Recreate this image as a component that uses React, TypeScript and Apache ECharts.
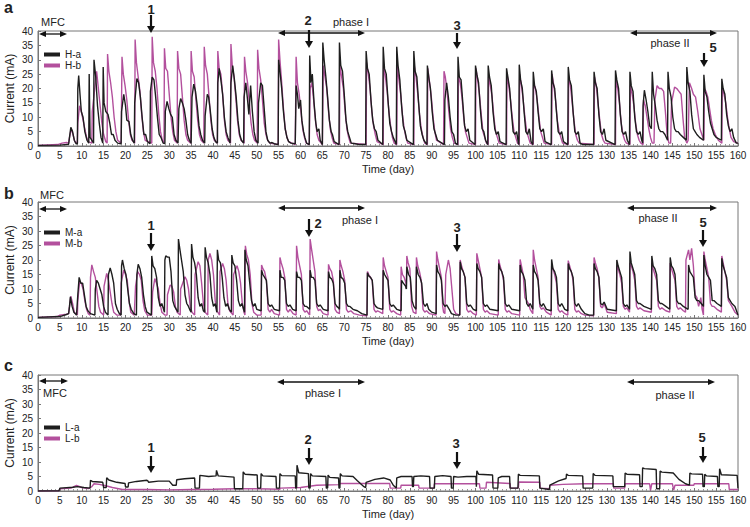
import React, { useEffect, useRef } from "react";
import * as echarts from "echarts";

const FONT = "'Liberation Sans', Arial, Helvetica, sans-serif";
const BLACK = "#1e1e1e";
const MAGENTA = "#b3509d";

const xTicks = { min: 0, max: 160, interval: 5 };
const yTicks = { min: 0, max: 40, interval: 5 };

// Panel a (H) : flat [day, mA, day, mA, ...]
const Ha = [
  0,0.2, 5,0.3, 6.5,0.5, 7.0,0.6, 7.2,3, 7.5,6.5, 7.9,5, 8.3,2, 8.7,0.8,
  9.0,0.8, 9.1,20, 9.3,24.5, 9.6,18, 9.9,12, 10.3,10, 10.7,5, 11.2,2, 11.6,1,
  11.7,25, 11.9,3, 12.7,1, 12.8,30, 13.2,24, 13.6,14, 14.0,8, 14.4,3, 14.8,1,
  14.9,27.5, 15.1,15, 15.5,12, 16.0,11, 16.4,8, 16.8,4, 17.2,4, 17.6,2, 18.2,1,
  19.0,0.8, 19.1,12, 19.6,18, 20.0,14, 20.3,9, 20.8,8.5, 21.2,4, 21.6,2, 22.0,1,
  22.1,15, 22.6,23.5, 23.0,22, 23.4,17, 23.8,10, 24.2,4, 24.6,4, 25.0,1.5, 25.6,0.8,
  25.7,19, 26.1,24, 26.5,23, 26.9,17, 27.3,10, 27.7,4, 28.1,3, 28.6,1,
  29.0,0.8, 29.1,12, 29.5,15.5, 29.9,13, 30.3,11, 30.7,10, 31.1,4, 31.5,2, 32.0,1,
  32.2,13, 32.6,16.5, 33.0,15, 33.4,13, 33.8,9, 34.2,4, 34.6,2, 35.0,1,
  35.2,17, 35.6,21.5, 36.0,19, 36.4,14, 36.8,7, 37.2,4, 37.6,2, 38.1,1,
  38.2,10.5, 38.7,18, 39.0,17, 39.4,12, 39.8,6, 40.2,3, 40.6,1.5, 41.0,1,
  41.1,22, 41.4,27, 41.8,23, 42.2,18, 42.6,10, 43.0,5, 43.4,3, 43.9,1,
  44.1,22, 44.5,28, 44.9,23, 45.3,17, 45.7,9, 46.1,4, 46.5,2, 47.0,1,
  47.1,17, 47.5,22, 47.9,16, 48.2,11, 48.6,21, 49.0,12, 49.4,5, 49.8,2, 50.3,1,
  50.4,15, 50.9,22, 51.3,21, 51.7,13, 52.1,5, 52.5,2, 53.0,1, 53.5,1.2, 54.0,0.8, 54.9,0.5,
  55.0,30, 55.3,26, 55.7,20, 56.1,12, 56.5,6, 56.9,3, 57.3,1.5, 57.8,1, 58.8,0.8,
  59.0,21, 59.3,18, 59.6,13, 60.0,16, 60.3,9, 60.7,5, 61.0,3, 61.4,1, 62.0,0.5,
  62.1,31.5, 62.4,22, 62.7,25, 63.1,15, 63.5,8, 63.8,5, 64.2,6, 64.5,2, 65.0,0.5,
  65.1,36, 65.4,30, 65.8,24, 66.2,17, 66.6,9, 67.0,5, 67.3,4, 67.7,1.5, 68.8,0.5,
  68.9,36, 69.2,28, 69.6,26, 70.0,18, 70.4,9, 70.8,5, 71.2,3, 71.6,1, 72.5,0.8, 73.5,0.5, 74.9,0.5,
  75.0,33, 75.3,27, 75.7,25, 76.1,16, 76.5,9, 76.9,6, 77.3,5, 77.7,2, 78.8,0.5,
  78.9,34.5, 79.2,27, 79.6,25, 80.0,16, 80.4,8, 80.8,5, 81.2,3, 81.9,0.5,
  82.0,34.5, 82.3,28, 82.7,23, 83.1,14, 83.5,7, 83.9,5, 84.3,2, 85.8,0.5,
  85.9,33, 86.2,26, 86.6,24, 87.0,15, 87.4,7, 87.8,4, 88.2,2, 88.9,0.5,
  89.0,28, 89.3,24, 89.7,20, 90.1,12, 90.5,6, 90.9,4, 91.3,2, 92.9,0.5,
  93.0,16, 93.4,22, 93.8,17, 94.2,10, 94.6,5, 95.0,4, 95.4,1, 95.9,0.5,
  96.0,31, 96.3,24, 96.7,23, 97.1,15, 97.5,7, 97.9,5, 98.3,6, 98.7,2, 99.9,0.5,
  100.0,28, 100.3,25, 100.7,22, 101.1,13, 101.5,6, 101.9,5, 102.3,2, 102.8,0.5,
  102.9,28, 103.2,24, 103.6,21, 104.0,12, 104.4,6, 104.8,4, 105.2,5, 105.6,1.5, 107.0,0.5,
  107.1,27, 107.4,24, 107.8,20, 108.2,12, 108.6,5, 109.0,4, 109.4,5, 109.8,1, 109.9,0.5,
  110.0,28.3, 110.3,23, 110.7,20, 111.1,12, 111.5,5, 111.9,4, 112.3,6, 112.7,1.5, 113.1,0.5,
  113.2,25.8, 113.5,21, 113.9,19, 114.3,12, 114.7,6, 115.1,5, 115.5,6, 115.9,1.5, 117.3,0.5,
  117.4,26.3, 117.7,22, 118.1,20, 118.5,12, 118.9,5, 119.3,4, 119.7,5, 120.1,1.5, 121.1,0.5,
  121.2,27.5, 121.5,23, 121.9,21, 122.3,12, 122.7,5, 123.1,4, 123.5,5, 123.9,1, 124.5,0.5, 127.0,0.5,
  127.1,25.8, 127.4,22, 127.8,20, 128.2,11, 128.6,5, 129.0,4, 129.4,6, 129.8,2, 131.9,0.5,
  132.0,26.3, 132.3,23, 132.7,20, 133.1,11, 133.5,5, 133.9,4, 134.3,5, 134.7,2, 135.2,0.5,
  135.3,25.8, 135.6,21, 136.0,19, 136.4,10, 136.8,5, 137.2,4, 137.6,5, 138.0,2, 138.2,1,
  138.3,14, 138.6,19.4, 139.0,16, 139.4,12, 139.8,7, 140.2,6, 140.3,6,
  140.4,25.8, 140.7,18, 141.1,14, 141.5,9, 141.9,6, 142.3,5, 142.8,5, 143.3,4, 143.9,2,
  144.0,25.8, 144.3,20, 144.7,17, 145.1,10, 145.5,6, 145.9,5, 146.3,5, 146.8,4, 147.5,3, 148.2,2,
  148.3,27.5, 148.6,22, 149.0,19, 149.4,11, 149.8,6, 150.2,5, 150.6,4, 151.2,3, 152.1,2,
  152.2,24.8, 152.5,19, 152.9,17, 153.3,12, 153.7,8, 154.1,6, 154.5,4, 155.0,3, 156.2,2,
  156.3,23.4, 156.6,20, 157.0,18, 157.4,11, 157.8,7, 158.2,5, 158.6,6, 159.0,3, 159.6,1, 160,1,
];

const Hb = [
  0,0.2, 4.5,0.5, 5.5,1, 6.5,1.2, 7.0,1, 7.2,3, 7.6,6, 8.0,4, 8.4,1.5, 9.0,1,
  9.1,8, 9.5,14, 9.9,12, 10.3,9, 10.7,6, 11.1,3, 11.5,1.5, 12.3,1,
  12.4,12, 13.4,26, 13.8,20, 14.2,14, 14.6,8, 15.0,4, 15.5,1.5, 15.8,1,
  15.9,32, 16.2,26, 16.6,22, 17.0,17, 17.4,10, 17.8,5, 18.2,2, 19.0,1,
  19.2,31, 19.5,25, 19.9,21, 20.3,16, 20.7,9, 21.1,4, 21.5,2, 22.1,1,
  22.2,37, 22.5,29, 22.9,24, 23.3,19, 23.7,11, 24.1,5, 24.5,2, 26.0,1,
  26.1,38, 26.4,29, 26.8,26, 27.2,20, 27.6,11, 28.0,5, 28.4,2, 28.8,1,
  28.9,34, 29.2,27, 29.6,26, 30.0,18, 30.4,10, 30.8,5, 31.2,2, 31.8,1,
  31.9,33, 32.2,27, 32.6,25, 33.0,17, 33.4,9, 33.8,4, 34.2,2, 34.9,1,
  35.0,33, 35.3,26, 35.7,24, 36.1,16, 36.5,9, 36.9,4, 37.3,2, 37.9,1,
  38.0,34.5, 38.3,28, 38.7,25, 39.1,17, 39.5,9, 39.9,4, 40.3,2, 41.0,1,
  41.1,33, 41.4,27, 41.8,25, 42.2,18, 42.6,9, 43.0,4, 43.4,2, 44.0,1,
  44.1,35.5, 44.4,28, 44.8,24, 45.2,17, 45.6,9, 46.0,4, 46.4,2, 47.1,1,
  47.2,31, 47.5,26, 47.9,22, 48.3,15, 48.7,8, 49.1,4, 49.5,2, 50.1,1,
  50.2,33.5, 50.5,27, 50.9,23, 51.3,16, 51.7,8, 52.1,4, 52.5,2, 53.0,1, 54.9,0.5,
  55.0,37, 55.3,30, 55.7,22, 56.1,13, 56.5,6, 56.9,3, 57.3,1.5, 58.8,0.5,
  59.0,31, 59.3,22, 59.7,18, 60.1,12, 60.5,6, 60.9,3, 61.3,1, 62.0,0.5,
  62.2,20, 62.6,22, 63.0,16, 63.4,9, 63.8,4, 64.2,2, 65.0,0.5,
  65.2,28, 65.6,24, 66.0,20, 66.4,12, 66.8,6, 67.2,3, 67.6,1, 68.9,0.5,
  69.0,28, 69.4,24, 69.8,20, 70.2,12, 70.6,6, 71.0,3, 71.4,1, 75.0,0.5,
  75.1,29, 75.5,25, 75.9,20, 76.3,12, 76.7,7, 77.1,4, 77.5,1.5, 78.9,0.5,
  79.0,28, 79.4,24, 79.8,19, 80.2,12, 80.6,7, 81.0,3, 81.4,1, 82.0,0.5,
  82.1,28, 82.5,23, 82.9,18, 83.3,11, 83.7,6, 84.1,3, 84.5,1, 85.9,0.5,
  86.0,28, 86.4,24, 86.8,18, 87.2,11, 87.6,6, 88.0,3, 88.4,1, 89.0,0.5,
  89.1,27, 89.5,22, 89.9,17, 90.3,10, 90.7,5, 91.1,2, 92.7,0.5,
  92.8,26, 93.1,24, 93.5,19, 93.9,12, 94.3,6, 94.7,3, 95.1,1, 96.0,0.5,
  96.1,24, 96.5,22, 96.9,17, 97.3,10, 97.7,5, 98.1,3, 98.5,1, 100.0,0.5,
  100.1,27, 100.5,23, 100.9,18, 101.3,11, 101.7,5, 102.1,3, 102.5,1, 102.9,0.5,
  103.0,24, 103.4,21, 103.8,17, 104.2,10, 104.6,5, 105.0,3, 105.4,1, 107.1,0.5,
  107.2,25, 107.6,21, 108.0,16, 108.4,10, 108.8,5, 109.2,3, 109.6,1, 110.0,0.5,
  110.1,25, 110.5,21, 110.9,16, 111.3,10, 111.7,5, 112.1,3, 112.5,1, 113.2,0.5,
  113.3,22, 113.7,20, 114.1,16, 114.5,10, 114.9,5, 115.3,3, 115.7,1, 117.4,0.5,
  117.5,25, 117.9,21, 118.3,16, 118.7,9, 119.1,5, 119.5,3, 119.9,1, 121.2,0.5,
  121.3,24, 121.7,21, 122.1,15, 122.5,9, 122.9,4, 123.3,2, 123.7,1, 127.1,0.5,
  127.2,24, 127.6,21, 128.0,15, 128.4,9, 128.8,4, 129.2,2, 129.6,1, 132.0,0.5,
  132.1,23, 132.5,20, 132.9,15, 133.3,8, 133.7,4, 134.1,2, 134.5,1, 135.3,0.5,
  135.4,21, 135.8,18, 136.2,14, 136.6,8, 137.0,4, 137.4,2, 137.8,1, 138.3,0.5,
  138.4,16, 138.8,14, 139.2,10, 139.6,6, 140.0,3, 140.4,1,
  140.8,1, 141.0,16, 141.5,21, 142.0,20, 142.5,20, 143.0,19, 143.4,12, 143.8,4, 144.2,1,
  144.6,1, 144.8,15, 145.5,20.5, 146.0,20, 146.5,19, 147.0,18, 147.4,10, 147.8,3, 148.3,1,
  148.6,2, 148.9,22, 149.4,20, 149.8,18, 150.3,17, 150.8,12, 151.3,6, 152.2,2,
  152.3,20, 152.7,19, 153.1,17, 153.5,13, 153.9,9, 154.3,6, 154.8,4, 155.5,2, 156.3,1,
  156.4,20, 156.8,18, 157.2,15, 157.6,10, 158.0,6, 158.4,3, 159.0,1.5, 160,1,
];

// Panel b (M)
const Ma = [
  0,0.2, 5,0.5, 6.5,1.2, 7.0,1.5, 7.2,4, 7.4,7.3, 7.8,4, 8.2,2, 8.8,1,
  9.1,8, 9.4,14, 9.8,12, 10.2,12, 10.6,8, 11.0,4, 11.4,2.5, 12.0,1.5, 13.0,1,
  13.1,10, 13.4,13, 13.8,12, 14.2,10, 14.6,8, 15.0,4, 15.4,2, 16.0,1,
  16.1,15, 16.5,17.3, 16.9,15, 17.3,12, 17.7,5, 18.1,3, 18.6,1.5, 19.0,1,
  19.1,18, 19.3,20, 19.7,17, 20.1,15, 20.5,10, 20.9,5, 21.3,3, 21.9,1.5, 22.5,1,
  22.6,15, 22.9,18.5, 23.3,17, 23.7,14, 24.1,8, 24.5,4, 24.9,2, 25.9,1,
  26.0,21.4, 26.3,18, 26.7,17, 27.1,14, 27.5,7, 27.9,4, 28.3,5, 28.7,3, 28.9,2,
  29.0,20, 29.2,21.4, 29.6,21, 30.0,21, 30.4,16, 30.8,6, 31.2,4, 31.6,3, 32.0,2,
  32.1,27.2, 32.4,24, 32.8,20, 33.2,16, 33.6,8, 34.0,5, 34.4,4, 34.8,2.5, 35.0,2,
  35.1,25.5, 35.4,21, 35.8,19, 36.2,15, 36.6,7, 37.0,4, 37.4,5, 37.8,2.5, 38.1,2,
  38.2,24.4, 38.5,21, 38.9,19, 39.3,15, 39.7,7, 40.1,4, 40.5,5, 40.8,2.5, 40.9,2,
  41.0,23.5, 41.3,20, 41.7,19, 42.1,14, 42.5,7, 42.9,4, 43.3,5, 43.7,3, 44.2,2,
  44.3,21.7, 44.6,19, 45.0,18, 45.4,13, 45.8,6, 46.2,4, 46.6,5, 47.0,3, 47.2,2,
  47.3,23.5, 47.6,20, 48.0,18, 48.4,12, 48.8,6, 49.2,4, 49.6,5, 50.0,3, 51.0,2.5,
  51.1,16.5, 51.4,15, 51.8,14, 52.2,13, 52.6,5, 53.0,4, 53.4,4.5, 54.0,3, 55.2,2.5,
  55.3,16.5, 55.6,14, 56.0,14, 56.4,13, 56.8,5, 57.2,4, 57.6,4.5, 58.2,3, 59.0,2.5,
  59.1,16, 59.4,14, 59.8,14, 60.2,13, 60.6,5, 61.0,4, 61.4,4, 62.1,3,
  62.2,16.5, 62.5,14, 62.9,14, 63.3,13, 63.7,5, 64.1,4, 64.5,4.5, 65.2,3, 66.3,2.5,
  66.4,16, 66.7,14, 67.1,13.5, 67.5,12, 67.9,5, 68.3,4, 68.7,3.5, 68.9,3,
  69.0,16.5, 69.3,14, 69.7,13.5, 70.1,12, 70.5,5, 70.9,4, 71.3,4, 72.0,3, 73.0,2.5, 74.0,1.5, 75.2,1,
  75.3,15.6, 75.6,14.5, 76.0,14, 76.4,13, 76.8,5, 77.2,4, 77.6,3.5, 78.8,3,
  78.9,16.5, 79.2,15, 79.6,14, 80.0,13, 80.4,5, 80.8,4, 81.2,4.5, 82.0,3, 83.0,2.5,
  83.1,13, 83.5,12, 84.0,11, 84.2,10,
  84.3,17.7, 84.7,15, 85.1,14, 85.5,6, 85.9,4, 86.4,3,
  86.5,17.7, 86.9,15, 87.3,14, 87.7,12, 88.1,5, 88.5,4, 88.9,5, 89.3,3, 90.0,2, 91.0,1.5,
  91.1,18.3, 91.4,16, 91.8,15, 92.2,13, 92.6,5, 93.0,4, 93.4,4.5, 94.0,3, 94.5,1.5, 95.5,1, 96.4,1,
  96.5,19.4, 96.8,17, 97.2,16, 97.6,14, 98.0,5, 98.4,4, 98.8,4.5, 99.5,3, 100.2,2.5,
  100.3,18.8, 100.6,17, 101.0,16, 101.4,14, 101.8,5, 102.2,4, 102.6,4.5, 103.3,3, 105.2,2.5,
  105.3,18.8, 105.6,17, 106.0,16, 106.4,14, 106.8,5, 107.2,4, 107.6,4.5, 108.3,3, 110.1,2.5,
  110.2,18.3, 110.5,16, 110.9,15, 111.3,13, 111.7,5, 112.1,4, 112.5,5, 113.1,3,
  113.2,18.3, 113.5,16, 113.9,15, 114.3,13, 114.7,5, 115.1,4, 115.5,5, 116.2,3, 117.3,2.5,
  117.4,20.2, 117.7,17, 118.1,16, 118.5,14, 118.9,5, 119.3,4, 119.7,5, 120.4,3, 121.1,2.5,
  121.2,18.8, 121.5,17, 121.9,16, 122.3,14, 122.7,5, 123.1,4, 123.5,5, 124.2,3, 125.0,1.5, 126.0,1, 127.0,1,
  127.1,18.8, 127.4,17, 127.8,16, 128.2,14, 128.6,5, 129.0,4.5, 129.4,5.5, 130.1,3, 132.2,2.5,
  132.3,20, 132.6,18, 133.0,16, 133.4,14, 133.8,5, 134.2,4, 134.6,4.5, 135.2,3,
  135.3,22.9, 135.6,19, 136.0,17, 136.4,15, 136.8,6, 137.2,5, 137.6,5, 138.5,4, 140.2,3,
  140.3,21.4, 140.6,18, 141.0,17, 141.4,15, 141.8,6, 142.2,5, 142.6,5, 143.5,4, 144.4,3,
  144.5,20.9, 144.8,18, 145.2,17, 145.6,15, 146.0,6, 146.4,5, 146.8,5, 147.5,4, 148.6,3,
  148.7,18.3, 149.0,16, 149.4,15, 149.8,14, 150.2,7, 150.6,6, 151.0,6, 151.6,5, 152.1,4,
  152.2,21.7, 152.5,18, 152.9,15, 153.3,14, 153.7,13, 154.1,6, 154.5,6, 155.2,5, 156.2,4,
  156.3,20.6, 156.6,18, 157.0,16, 157.4,14, 157.8,7, 158.2,6, 158.6,5, 159.3,4, 160,1,
];

const Mb = [
  0,0.2, 4.5,0.5, 5.0,1, 6.5,1.3, 7.0,1.5, 7.2,4, 7.5,7.5, 7.9,5, 8.3,2, 9.0,1,
  9.1,6, 9.5,12.5, 9.9,12, 10.3,10, 10.7,6, 11.1,3, 11.5,1.5, 11.9,1,
  12.0,14, 12.3,18.3, 12.7,16, 13.1,14, 13.5,9, 13.9,4, 14.3,2, 15.0,1,
  15.1,11, 15.7,15.4, 16.1,13, 16.5,9, 16.9,5, 17.3,2, 18.0,1,
  18.9,1, 19.0,12, 19.6,16.5, 20.0,15, 20.4,13, 20.8,6, 21.2,2, 22.0,1,
  22.3,11, 22.8,16, 23.2,15, 23.6,13, 24.0,6, 24.4,2.5, 25.0,1,
  26.0,1, 26.2,9, 26.7,13.6, 27.1,12, 27.5,10, 27.9,5, 28.3,2, 29.0,1,
  29.5,1, 29.6,8, 30.2,11.3, 30.6,11, 31.0,9, 31.4,4, 31.8,2, 32.5,1,
  32.6,10, 33.6,14.2, 34.0,13, 34.4,10, 34.8,4, 35.2,2, 35.8,1,
  35.9,15, 36.6,19.4, 37.0,18, 37.4,12, 37.8,5, 38.2,2, 38.8,1,
  38.9,20, 39.3,22.3, 39.7,20, 40.1,15, 40.5,6, 40.9,2.5, 41.5,1,
  41.6,16, 42.2,18.8, 42.6,17, 43.0,13, 43.4,5, 43.8,2.5, 44.6,1,
  44.7,15, 45.5,18, 45.9,16, 46.3,12, 46.7,5, 47.1,2, 47.3,1,
  47.4,24.9, 47.7,22, 48.1,20, 48.5,15, 48.9,5, 49.3,2, 50.0,1, 51.0,1,
  51.1,18.3, 51.4,17, 51.8,16, 52.2,13, 52.6,3, 53.0,2, 53.4,3, 54.0,1.5, 55.2,1,
  55.3,20.9, 55.6,19, 56.0,17, 56.4,14, 56.8,3, 57.2,2, 57.6,3, 58.3,1.5, 59.0,1,
  59.1,24.9, 59.4,21, 59.8,18, 60.2,15, 60.6,3, 61.0,2, 61.4,2.5, 62.1,1,
  62.2,27.2, 62.5,24, 62.9,20, 63.3,16, 63.7,4, 64.1,2.5, 64.5,3, 65.2,1.5, 66.3,1,
  66.4,18.5, 66.7,17, 67.1,16, 67.5,13, 67.9,3, 68.3,2, 68.9,1.5,
  69.0,20, 69.3,18, 69.7,16, 70.1,13, 70.5,3, 70.9,2, 71.5,2.5, 72.2,1.5, 73.5,1, 75.2,0.8,
  75.3,16, 75.6,15, 76.0,14, 76.4,13, 76.8,3, 77.2,2, 77.6,2.5, 78.8,1.5,
  78.9,20.9, 79.2,18, 79.6,16, 80.0,14, 80.4,3, 80.8,2, 81.2,2.5, 82.0,1.5, 82.9,1,
  83.0,17.7, 83.3,15, 83.7,14, 84.1,12, 84.2,10,
  84.3,21.4, 84.6,19, 85.0,17, 85.4,4, 85.8,2, 86.4,1.5,
  86.5,20.9, 86.8,18, 87.2,16, 87.6,13, 88.0,3, 88.4,2, 88.8,2.5, 89.5,1.5, 91.0,1,
  91.1,22.9, 91.4,20, 91.8,17, 92.2,14, 92.5,4, 92.7,2, 93.0,1.5,
  93.2,15, 93.8,20, 94.2,17, 94.6,10, 95.0,3, 95.5,1.5, 96.4,1,
  96.5,20, 96.8,18, 97.2,16, 97.6,14, 98.0,3, 98.4,2, 98.8,2.5, 99.5,1.5, 100.2,1,
  100.3,22.3, 100.6,20, 101.0,17, 101.4,14, 101.8,3, 102.2,2, 102.6,2.5, 103.3,1.5, 105.2,1,
  105.3,20.2, 105.6,18, 106.0,16, 106.4,13, 106.8,3, 107.2,2, 107.6,2.5, 108.3,1.5, 110.1,1,
  110.2,20.2, 110.5,18, 110.9,15, 111.3,7, 111.7,6, 112.1,5, 112.5,3, 113.1,1.5,
  113.2,23.5, 113.5,20, 113.9,17, 114.3,14, 114.7,4, 115.1,3, 115.5,3.5, 116.2,2, 117.3,1,
  117.4,18, 117.7,17, 118.1,15, 118.5,12, 118.9,3, 119.3,2, 119.7,2.5, 120.4,1.5, 121.1,1,
  121.2,19.8, 121.5,18, 121.9,16, 122.3,13, 122.7,3, 123.1,2, 123.5,2.5, 124.2,1.5, 125.0,1, 127.0,0.8,
  127.1,20.9, 127.4,19, 127.8,17, 128.2,14, 128.6,4, 129.0,3.5, 129.4,5, 130.1,2, 132.2,1.5,
  132.3,18, 132.6,17, 133.0,15, 133.4,12, 133.8,4, 134.2,3, 134.6,3.5, 135.2,2,
  135.3,19, 135.6,18, 136.0,16, 136.4,13, 136.8,4, 137.2,3, 137.6,3.5, 138.5,2.5, 140.2,2,
  140.3,19, 140.6,17, 141.0,15, 141.4,13, 141.8,4, 142.2,3, 142.6,3.5, 143.5,2.5, 144.4,2,
  144.5,19, 144.8,17, 145.2,15, 145.6,13, 146.0,4, 146.4,3, 146.8,3.5, 147.5,2.5, 148.0,2,
  148.1,20, 148.7,23.5, 149.0,20, 149.4,24, 149.8,18, 150.2,8, 150.6,7, 151.0,4, 151.5,7, 151.8,3, 152.1,1,
  152.2,22.9, 152.5,20, 152.9,17, 153.3,14, 153.7,5, 154.1,4, 154.5,4, 155.2,3, 156.2,2,
  156.3,21.4, 156.6,19, 157.0,16, 157.4,13, 157.8,6, 158.2,5, 158.6,4, 159.3,2, 160,1,
];

// Panel c (L)
const La = [
  0,0, 4.8,0.1, 5.0,1.0, 8.0,1.3, 9.0,1.5, 10.5,1.2, 11.9,1.0,
  12.0,3.7, 12.4,3.3, 14.8,3.0, 15.0,1.2, 15.6,1.2,
  15.7,4.6, 16.2,3.8, 18.0,3.0, 19.9,2.6, 20.0,1.4, 20.6,1.4,
  20.7,2.8, 22.5,3.3, 24.9,3.7, 25.1,3.5, 25.3,3.0, 27.5,3.4, 30.0,3.4, 30.8,2.0, 31.6,2.0,
  31.7,3.9, 33.5,4.2, 35.8,4.5, 35.9,1.0, 36.9,1.0,
  37.0,5.4, 39.0,5.0, 40.7,5.2, 40.8,7.1, 41.2,5.2, 44.8,4.8, 44.9,0.8, 46.8,0.8,
  46.9,6.6, 47.3,5.8, 50.1,5.5, 50.2,1.0, 50.9,1.0,
  51.0,6.0, 51.4,5.2, 54.4,5.0, 54.5,1.0, 55.2,1.0,
  55.3,6.0, 55.7,5.3, 58.8,5.2, 58.9,1.0, 59.1,1.0,
  59.2,8.9, 59.6,6.3, 61.8,6.0, 61.9,1.0, 62.2,1.0,
  62.3,6.0, 62.7,5.2, 65.8,5.0, 65.9,1.0, 66.2,1.0,
  66.3,5.5, 66.7,4.7, 68.7,4.5, 68.8,1.0, 69.0,1.0,
  69.1,6.0, 69.5,5.2, 72.0,5.0, 73.0,3.5, 74.5,1.5, 74.9,1.2,
  75.0,3.0, 77.0,4.0, 79.0,4.5, 80.5,3.8, 81.2,2.0, 81.9,1.0,
  82.0,4.5, 83.0,5.0, 85.5,5.0, 85.6,1.5, 85.8,1.5,
  85.9,5.0, 87.5,5.2, 89.5,5.0, 89.6,1.0, 90.6,1.0,
  90.7,5.0, 92.5,5.3, 94.4,5.0, 94.5,1.0, 94.9,1.0,
  95.0,5.0, 96.0,4.8, 98.0,5.0, 100.1,5.0, 100.2,1.5, 100.3,7.0, 100.7,5.8, 103.9,5.5, 104.0,1.0, 105.1,1.0,
  105.2,4.5, 106.0,5.0, 107.8,5.0, 107.9,1.0, 109.7,1.0,
  109.8,5.8, 110.2,5.4, 114.6,5.2, 114.7,1.0, 116.9,0.5,
  117.0,2.0, 119.0,3.5, 120.7,4.3, 120.8,5.8, 121.2,5.4, 124.5,5.2, 124.6,1.0, 126.8,1.0,
  126.9,6.0, 127.3,5.4, 131.4,5.2, 131.5,1.5, 134.1,1.5,
  134.2,6.2, 134.6,5.8, 137.5,5.6, 137.6,1.5, 138.1,1.5,
  138.2,8.0, 138.6,7.7, 141.3,7.4, 141.4,0.8, 142.1,0.8,
  142.2,6.9, 142.6,6.5, 145.2,6.2, 146.5,4.0, 148.0,2.5, 148.9,2.0,
  149.0,6.2, 149.4,5.9, 151.9,5.8, 152.0,1.5, 152.3,1.5,
  152.4,5.8, 152.8,5.2, 155.3,5.0, 155.4,1.5, 155.7,1.5,
  155.8,7.7, 156.2,5.6, 159.8,5.4, 160,1.0,
];

const Lb = [
  0,0, 4.8,0.1, 5.0,0.8, 7.5,1.0, 8.8,1.9, 10.0,1.2, 11.5,0.8, 12.3,1.5, 12.8,2.5, 14.0,2.3,
  15.5,1.8, 17.0,1.2, 19.3,0.5, 25,0.5, 30,0.4, 35,0.5, 40,0.6, 45,0.8, 50,0.8, 55.3,0.6,
  55.4,1.0, 60,1.2, 63.7,2.0, 68.9,2.2, 69.0,2.6, 80.4,2.6, 80.5,1.0, 82.9,1.0, 83.0,2.0,
  87.0,2.0, 87.1,1.0, 90.5,1.0, 90.6,2.5, 100.9,2.5, 101.0,1.0, 102.4,1.0, 102.5,3.0,
  107.9,2.6, 108.0,1.0, 109.8,1.0, 109.9,3.1, 114.7,3.0, 114.8,1.0, 116.9,0.8, 117.0,2.0,
  120,2.3, 125,2.5, 131.5,2.5, 131.6,1.0, 134.1,1.0, 134.2,2.5, 139.8,2.5, 140.0,0.2,
  140.3,2.5, 145.0,2.5, 145.3,0.3, 145.6,2.0, 149.9,2.0, 150.0,2.5, 157.9,2.5, 158.0,0.5, 160,0.5,
];

const panelNames = [
  ["H-a", "H-b"],
  ["M-a", "M-b"],
  ["L-a", "L-b"],
];
const panelData = [
  [Ha, Hb],
  [Ma, Mb],
  [La, Lb],
];

const toPairs = (flat: number[]) => {
  const out: number[][] = [];
  for (let i = 0; i + 1 < flat.length; i += 2) out.push([flat[i], flat[i + 1]]);
  return out;
};

// layout
const GRID_LEFT = 38;
const GRID_W = 700;
const gridTops = [31, 202, 375];
const gridH = [115, 116, 116];

const T = (text: string, x: number, y: number, size: number, bold = false, align = "center") => ({
  type: "text",
  silent: true,
  style: {
    text,
    x,
    y,
    fill: "#222",
    fontSize: size,
    fontWeight: bold ? "bold" : "normal",
    fontFamily: FONT,
    align,
    verticalAlign: "middle",
  },
});

const downArrow = (x: number, y1: number, tip: number) => [
  { type: "line", silent: true, shape: { x1: x, y1, x2: x, y2: tip - 5 }, style: { stroke: "#111", lineWidth: 2.2 } },
  { type: "polygon", silent: true, shape: { points: [[x - 4, tip - 7], [x + 4, tip - 7], [x, tip]] }, style: { fill: "#111" } },
];

const dblArrow = (x1: number, x2: number, y: number) => [
  { type: "line", silent: true, shape: { x1: x1 + 5, y1: y, x2: x2 - 5, y2: y }, style: { stroke: "#111", lineWidth: 1.3 } },
  { type: "polygon", silent: true, shape: { points: [[x1, y], [x1 + 7, y - 3], [x1 + 7, y + 3]] }, style: { fill: "#111" } },
  { type: "polygon", silent: true, shape: { points: [[x2, y], [x2 - 7, y - 3], [x2 - 7, y + 3]] }, style: { fill: "#111" } },
];

export default function App() {
  const ref = useRef<HTMLDivElement>(null);
  useEffect(() => {
    if (!ref.current) return;
    const chart = echarts.init(ref.current, null, { renderer: "svg" });

    const grids = gridTops.map((top, i) => ({
      left: GRID_LEFT,
      width: GRID_W,
      top,
      height: gridH[i],
      show: true,
      borderColor: "#777",
      borderWidth: 1,
      backgroundColor: "transparent",
      containLabel: false,
      outerBoundsMode: "none",
    }));

    const xAxes = gridTops.map((_, i) => ({
      type: "value",
      gridIndex: i,
      min: xTicks.min,
      max: xTicks.max,
      interval: xTicks.interval,
      name: "Time (day)",
      nameLocation: "middle",
      nameGap: 17,
      nameMoveOverlap: false,
      nameTextStyle: { fontSize: 11, color: "#222", fontFamily: FONT },
      axisLine: { show: true, lineStyle: { color: "#777", width: 1 } },
      axisTick: { show: true, inside: true, length: 3, lineStyle: { color: "#777" } },
      minorTick: { show: true, splitNumber: 5, length: 2, lineStyle: { color: "#999" } },
      axisLabel: { fontSize: 10, color: "#222", margin: 4, fontFamily: FONT },
      splitLine: { show: false },
    }));

    const yAxes = gridTops.map((_, i) => ({
      type: "value",
      gridIndex: i,
      min: yTicks.min,
      max: yTicks.max,
      interval: yTicks.interval,
      name: "Current (mA)",
      nameLocation: "middle",
      nameGap: 22,
      nameMoveOverlap: false,
      nameRotate: 90,
      nameTextStyle: { fontSize: 12, color: "#222", fontFamily: FONT },
      axisLine: { show: true, lineStyle: { color: "#777", width: 1 } },
      axisTick: { show: true, inside: true, length: 3, lineStyle: { color: "#777" } },
      axisLabel: { fontSize: 10, color: "#222", margin: 5, fontFamily: FONT },
      splitLine: { show: false },
    }));

    const series: any[] = [];
    panelNames.forEach((names, p) => {
      names.forEach((name, k) => {
        series.push({
          type: "line",
          name,
          xAxisIndex: p,
          yAxisIndex: p,
          data: toPairs(panelData[p][k]),
          showSymbol: false,
          symbol: "none",
          z: k === 0 ? 3 : 2,
          lineStyle: { color: k === 0 ? BLACK : MAGENTA, width: 1.4 },
          itemStyle: { color: k === 0 ? BLACK : MAGENTA },
        });
      });
    });

    const legendTops = [49, 227, 422];
    const legends = panelNames.map((names, p) => ({
      data: names,
      orient: "vertical",
      left: 44,
      top: legendTops[p],
      icon: "rect",
      itemWidth: 16,
      itemHeight: 4,
      itemGap: 0,
      padding: 0,
      textStyle: { fontSize: 10, lineHeight: 11, color: "#222", fontFamily: FONT },
    }));

    const g: any[] = [
      T("a", 4, 7, 16, true, "left"),
      T("b", 4, 193, 16, true, "left"),
      T("c", 4, 365, 16, true, "left"),
      // panel a
      T("MFC", 53, 22, 11),
      ...dblArrow(39, 67, 34),
      T("1", 151, 9, 13, true),
      ...downArrow(151, 15, 33),
      T("2", 308, 20, 13, true),
      ...downArrow(309, 30, 48),
      ...dblArrow(278, 365, 33),
      T("phase I", 351, 22, 11),
      T("3", 457, 25, 13, true),
      ...downArrow(457, 33, 49),
      ...dblArrow(630, 717, 33),
      T("phase II", 670, 43, 11),
      T("5", 713, 47, 13, true),
      ...downArrow(704, 53, 67),
      // panel b
      T("MFC", 52, 195, 11),
      ...dblArrow(39, 67, 209),
      T("1", 151, 225, 13, true),
      ...downArrow(151, 233, 251),
      T("2", 318, 223, 13, true),
      ...downArrow(309, 219, 237),
      ...dblArrow(278, 365, 208),
      T("phase I", 360, 220, 11),
      T("3", 457, 227, 13, true),
      ...downArrow(457, 234, 252),
      ...dblArrow(627, 717, 208),
      T("phase II", 658, 218, 11),
      T("5", 703, 222, 13, true),
      ...downArrow(703, 230, 247),
      // panel c
      ...dblArrow(39, 68, 381),
      T("MFC", 55, 393, 11),
      T("1", 151, 447, 13, true),
      ...downArrow(151, 456, 473),
      T("2", 308, 439, 13, true),
      ...downArrow(309, 448, 465),
      ...dblArrow(277, 365, 382),
      T("phase I", 323, 393, 11),
      T("3", 456, 443, 13, true),
      ...downArrow(457, 452, 469),
      ...dblArrow(627, 715, 382),
      T("phase II", 675, 395, 11),
      T("5", 702, 437, 13, true),
      ...downArrow(703, 447, 463),
    ];

    chart.setOption({
      animation: false,
      backgroundColor: "#ffffff",
      textStyle: { fontFamily: FONT },
      grid: grids,
      xAxis: xAxes,
      yAxis: yAxes,
      legend: legends,
      series,
      graphic: g,
    });
    return () => chart.dispose();
  }, []);

  return (
    <div
      ref={ref}
      style={{ position: "fixed", left: 0, top: 0, width: 750, height: 527, background: "#fff" }}
    />
  );
}
